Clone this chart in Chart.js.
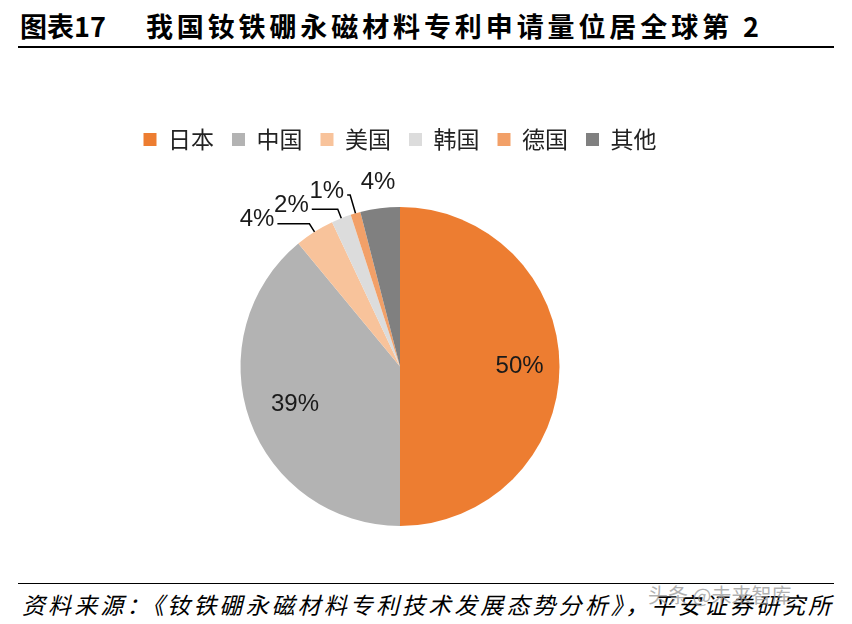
<!DOCTYPE html>
<html><head><meta charset="utf-8">
<script src="https://cdn.jsdelivr.net/npm/chart.js@4"></script>
<style>
body{margin:0;width:852px;height:624px;background:#fff;font-family:"Noto Sans CJK SC",sans-serif;position:relative;overflow:hidden}
#title{position:absolute;left:20px;top:6px;font-size:27px;font-weight:bold;color:#000;white-space:pre}
#title span{margin-left:40px;letter-spacing:3.9px}
#rule1{position:absolute;left:18px;right:18px;top:46px;border-top:2px solid #000}
#rule2{position:absolute;left:18px;right:18px;top:583px;border-top:1.5px solid #000}
#src{position:absolute;left:22px;top:587px;font-size:23px;font-style:italic;color:#000;letter-spacing:3.1px}
#wm{position:absolute;left:648px;top:580px;font-size:20px;color:rgba(150,150,150,0.75)}
#box{position:absolute;left:0;top:110px;width:852px;height:430px}
</style></head><body>
<div id="title">图表17<span>我国钕铁硼永磁材料专利申请量位居全球第 2</span></div>
<div id="rule1"></div>
<div id="box"><canvas id="pie"></canvas></div>
<div id="rule2"></div>
<div id="src">资料来源：《钕铁硼永磁材料专利技术发展态势分析》，平安证券研究所</div>
<div id="wm">头条 @未来智库</div>
<script>
const categories = ['日本','中国','美国','韩国','德国','其他'];
const shares = [50, 39, 4, 2, 1, 4];
const colors = ['#ED7D31','#B3B3B3','#F8C39B','#DCDCDC','#F2A068','#808080'];
// label placement per slice: [radius factor, horizontal run, leader line]
const labelStyle = [[0.75,0,false],[0.7,0,false],[1.06,-32,true],[1.06,-26,true],[1.12,-3,true],[1.1,0,false]];

const labelPlugin = {
  id:'pieLabels',
  afterDatasetsDraw(chart){
    const ctx = chart.ctx;
    const meta = chart.getDatasetMeta(0);
    ctx.save();
    ctx.font = '24px "Liberation Sans", Arial, sans-serif';
    ctx.fillStyle = '#1a1a1a';
    ctx.strokeStyle = '#000';
    ctx.lineWidth = 1.5;
    meta.data.forEach((arc,i)=>{
      const mid = (arc.startAngle+arc.endAngle)/2;
      const [f,run,line] = labelStyle[i];
      const r = arc.outerRadius;
      const ex = arc.x+Math.cos(mid)*r, ey = arc.y+Math.sin(mid)*r;
      const bx = arc.x+Math.cos(mid)*r*f, by = arc.y+Math.sin(mid)*r*f;
      const txt = shares[i]+'%';
      if(line){
        ctx.beginPath();ctx.moveTo(ex,ey);ctx.lineTo(bx,by);ctx.lineTo(bx+run,by);ctx.stroke();
        ctx.textAlign='right';ctx.textBaseline='middle';
        ctx.fillText(txt,bx+run-3,by-4);
      }else{
        ctx.textAlign='center';ctx.textBaseline=f>1?'bottom':'middle';
        ctx.fillText(txt,bx,by+(f>1?2:0));
      }
    });
    ctx.restore();
  }
};

const legendGap = {
  id:'legendGap',
  beforeInit(chart){
    const fit = chart.legend.fit;
    chart.legend.fit = function(){ fit.bind(chart.legend)(); this.height += 46; };
  }
};

new Chart('pie',{
  type:'pie',
  data:{labels:categories,datasets:[{data:shares,backgroundColor:colors,borderWidth:0}]},
  options:{
    responsive:true,maintainAspectRatio:false,animation:false,
    layout:{padding:{top:0,bottom:14,right:52}},
    plugins:{
      tooltip:{enabled:false},
      legend:{position:'top',labels:{boxWidth:13,boxHeight:13,padding:18,color:'#222',
        font:{size:23,family:'"Noto Sans CJK SC"'}}}
    }
  },
  plugins:[legendGap,labelPlugin]
});
</script>
</body></html>
